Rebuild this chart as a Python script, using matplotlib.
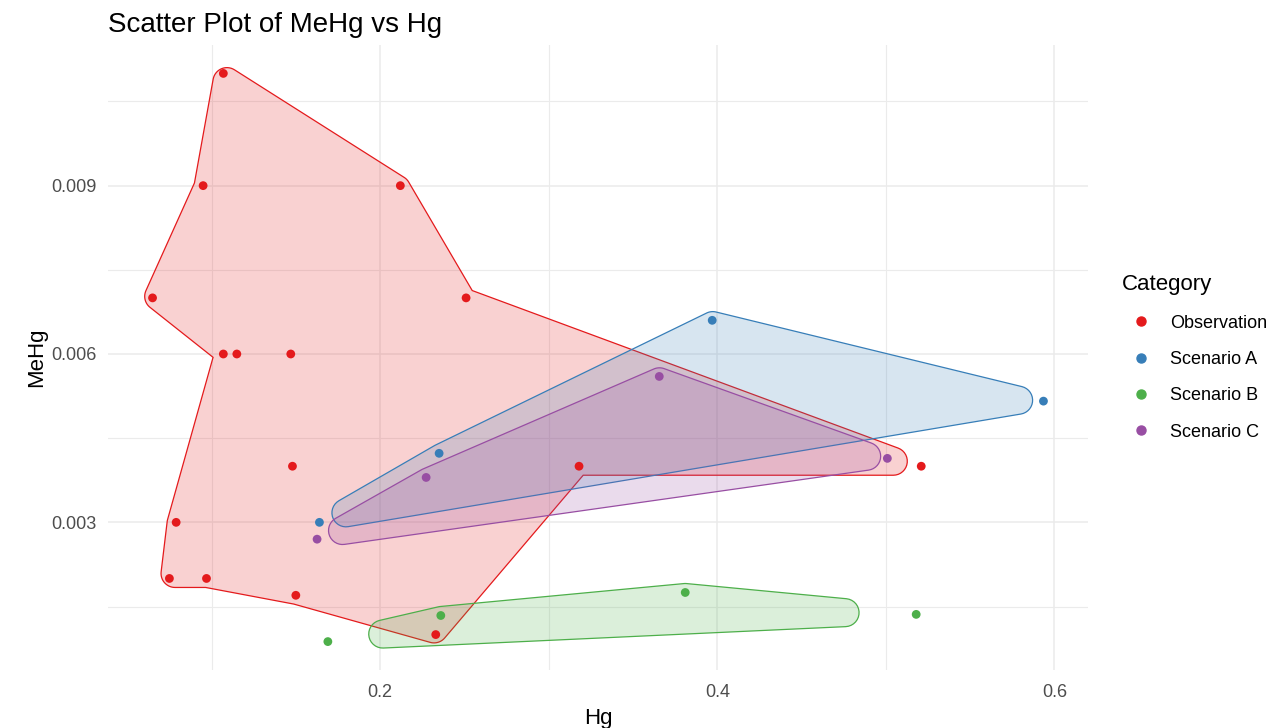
import matplotlib.pyplot as plt
from matplotlib.patches import Polygon
from matplotlib.lines import Line2D
import numpy as np

plt.rcParams['font.family'] = ['Liberation Sans', 'DejaVu Sans']

# data
categories = ['Observation', 'Scenario A', 'Scenario B', 'Scenario C']
colors = ['#E41A1C', '#377EB8', '#4DAF4A', '#984EA3']

obs_hg = [0.107, 0.095, 0.212, 0.065, 0.251, 0.107, 0.115, 0.147, 0.148,
          0.318, 0.521, 0.079, 0.075, 0.097, 0.150, 0.233]
obs_mehg = [0.011, 0.009, 0.009, 0.007, 0.007, 0.006, 0.006, 0.006, 0.004,
            0.004, 0.004, 0.003, 0.002, 0.002, 0.0017, 0.001]

a_hg = [0.164, 0.235, 0.397, 0.5935]
a_mehg = [0.0030, 0.00423, 0.0066, 0.00516]

b_hg = [0.169, 0.236, 0.381, 0.518]
b_mehg = [0.000875, 0.00134, 0.00175, 0.00136]

c_hg = [0.1626, 0.2273, 0.3656, 0.5009]
c_mehg = [0.0027, 0.0038, 0.0056, 0.00414]

groups = [(obs_hg, obs_mehg), (a_hg, a_mehg), (b_hg, b_mehg), (c_hg, c_mehg)]

CONCAVITY = 2.0
ERODE = 5.0   # px
GROW = 14.0   # px


def convex_hull(pts):
    idx = sorted(range(len(pts)), key=lambda i: (pts[i][0], pts[i][1]))

    def cross(o, a, b):
        return (a[0]-o[0])*(b[1]-o[1]) - (a[1]-o[1])*(b[0]-o[0])
    lower, upper = [], []
    for i in idx:
        while len(lower) >= 2 and cross(pts[lower[-2]], pts[lower[-1]], pts[i]) <= 0:
            lower.pop()
        lower.append(i)
    for i in reversed(idx):
        while len(upper) >= 2 and cross(pts[upper[-2]], pts[upper[-1]], pts[i]) <= 0:
            upper.pop()
        upper.append(i)
    return lower[:-1] + upper[:-1]  # counter-clockwise


def seg_d2(p, a, b):
    ab = b - a
    t = np.clip(np.dot(p - a, ab) / np.dot(ab, ab), 0, 1)
    d = p - (a + t*ab)
    return d @ d


def seg_cross(p1, p2, q1, q2):
    def orient(a, b, c):
        return (b[0]-a[0])*(c[1]-a[1]) - (b[1]-a[1])*(c[0]-a[0])
    d1, d2 = orient(q1, q2, p1), orient(q1, q2, p2)
    d3, d4 = orient(p1, p2, q1), orient(p1, p2, q2)
    return d1*d2 < 0 and d3*d4 < 0


def concave_hull(pts):
    # rough take on the concaveman idea
    hull = convex_hull(pts)
    rest = set(range(len(pts))) - set(hull)
    queue = [(hull[k], hull[(k+1) % len(hull)]) for k in range(len(hull))]
    while queue:
        a, b = queue.pop(0)
        n = len(hull)
        ia = hull.index(a)
        if hull[(ia+1) % n] != b:
            continue
        prv, nxt = hull[ia-1], hull[(ia+2) % n]
        pa, pb = pts[a], pts[b]
        max2 = np.sum((pb - pa)**2) / CONCAVITY**2
        best, best_d = None, np.inf
        for i in rest:
            p = pts[i]
            d = seg_d2(p, pa, pb)
            if d > max2 or d >= best_d:
                continue
            if not (d < seg_d2(p, pts[prv], pa) and d < seg_d2(p, pb, pts[nxt])):
                continue
            edges = [(hull[k], hull[(k+1) % n]) for k in range(n)]
            bad = False
            for u, v in edges:
                for s in (a, b):
                    if s in (u, v):
                        continue
                    if seg_cross(pts[s], p, pts[u], pts[v]):
                        bad = True
            if bad:
                continue
            best, best_d = i, d
        if best is None:
            continue
        p = pts[best]
        if min(np.sum((p-pa)**2), np.sum((p-pb)**2)) <= max2:
            hull.insert(ia+1, best)
            rest.discard(best)
            queue.append((a, best))
            queue.append((best, b))
    return pts[hull]


def edge_normals(poly):
    e = np.roll(poly, -1, axis=0) - poly
    e = e / np.linalg.norm(e, axis=1)[:, None]
    return e, np.column_stack([e[:, 1], -e[:, 0]])


def miter_offset(poly, d):
    e, nrm = edge_normals(poly)
    n1 = np.roll(nrm, 1, axis=0)
    k = 1 + np.sum(n1*nrm, axis=1)
    return poly + d*(n1 + nrm)/k[:, None]


def round_offset(poly, d):
    e, nrm = edge_normals(poly)
    out = []
    for i in range(len(poly)):
        n1, n2 = nrm[i-1], nrm[i]
        e1, e2 = e[i-1], e[i]
        if e1[0]*e2[1] - e1[1]*e2[0] > 0:
            a1 = np.arctan2(n1[1], n1[0])
            a2 = np.arctan2(n2[1], n2[0])
            if a2 < a1:
                a2 += 2*np.pi
            for t in np.linspace(a1, a2, 16):
                out.append(poly[i] + d*np.array([np.cos(t), np.sin(t)]))
        else:
            out.append(poly[i] + d*(n1 + n2)/(1 + n1 @ n2))
    return np.array(out)


fig = plt.figure(figsize=(12.76, 7.28), dpi=100)
ax = fig.add_axes([108/1276, 58/728, 980/1276, 625/728])

all_x = np.concatenate([g[0] for g in groups])
all_y = np.concatenate([g[1] for g in groups])
xr = all_x.max() - all_x.min()
yr = all_y.max() - all_y.min()
ax.set_xlim(all_x.min() - 0.05*xr, all_x.max() + 0.05*xr)
ax.set_ylim(all_y.min() - 0.05*yr, all_y.max() + 0.05*yr)

ax.set_xticks([0.2, 0.4, 0.6])
ax.set_xticks([0.1, 0.3, 0.5], minor=True)
ax.set_yticks([0.003, 0.006, 0.009])
ax.set_yticks([0.0015, 0.0045, 0.0075, 0.0105], minor=True)
ax.set_xticklabels(['0.2', '0.4', '0.6'])
ax.set_yticklabels(['0.003', '0.006', '0.009'])
ax.grid(which='major', color='#EBEBEB', lw=1.1)
ax.grid(which='minor', color='#EBEBEB', lw=0.8)
ax.set_axisbelow(True)
ax.tick_params(which='both', length=0, labelsize=13, labelcolor='#4D4D4D')
ax.tick_params(axis='x', pad=10)
ax.tick_params(axis='y', pad=8)
for s in ax.spines.values():
    s.set_visible(False)

# hulls, computed in pixel space like ggforce does
to_px = ax.transData
to_data = ax.transData.inverted()
for (hx, hy), col in zip(groups, colors):
    px = to_px.transform(np.column_stack([hx, hy]))
    hull = concave_hull(px)
    shape = round_offset(miter_offset(hull, -ERODE), GROW)
    ax.add_patch(Polygon(to_data.transform(shape), closed=True, facecolor=col,
                         alpha=0.2, edgecolor='none', zorder=2))
    ax.add_patch(Polygon(to_data.transform(shape), closed=True, facecolor='none',
                         edgecolor=col, lw=0.9, zorder=2))

for (hx, hy), col in zip(groups, colors):
    ax.scatter(hx, hy, s=40, color=col, edgecolors='none', zorder=3)

ax.set_xlabel('Hg', fontsize=16, labelpad=5)
ax.set_ylabel('MeHg', fontsize=16, labelpad=3)
ax.set_title('Scatter Plot of MeHg vs Hg', fontsize=20, loc='left', pad=9)

handles = [Line2D([], [], ls='none', marker='o', ms=6.5, color=c) for c in colors]
fig.legend(handles, categories, title='Category', loc='upper left',
           bbox_to_anchor=(1106/1276, 1 - 258/728), frameon=False,
           fontsize=13, title_fontsize=16, alignment='left',
           labelspacing=1.07, handletextpad=0.58, handlelength=2.05)

fig.savefig('out.png', dpi=100)
